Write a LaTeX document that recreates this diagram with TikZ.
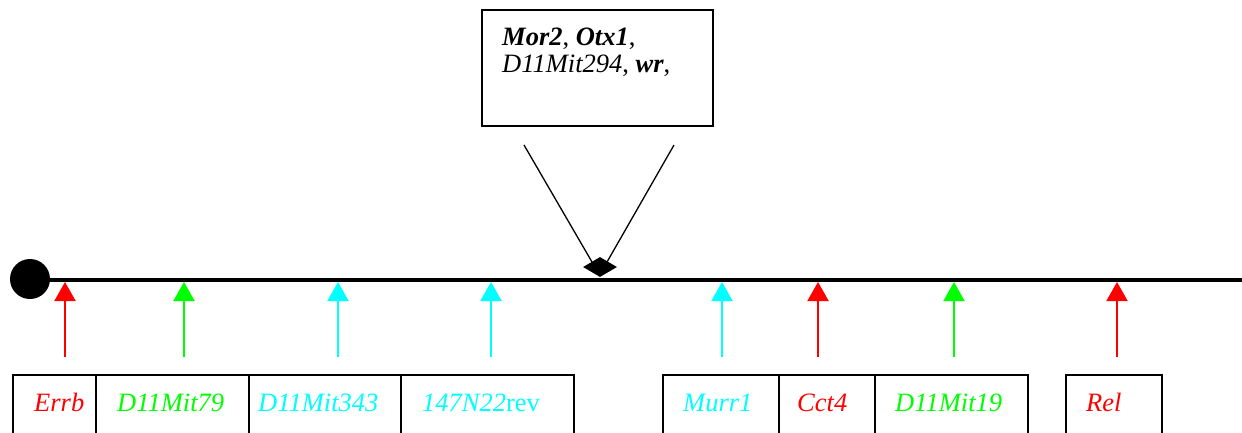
\documentclass[tikz,border=0pt]{standalone}
\usepackage{fontspec}
\setmainfont{Liberation Serif}
\usetikzlibrary{arrows.meta,shapes.geometric}
\definecolor{mred}{RGB}{255,0,0}
\definecolor{mgreen}{RGB}{0,255,0}
\definecolor{mcyan}{RGB}{0,255,255}
\tikzset{
  lbl/.style={anchor=base west,inner sep=0pt,font=\fontsize{26.5}{27}\selectfont\itshape},
  mbox/.style={draw=black,line width=1.5pt,inner sep=0pt},
  marker/.style={line width=2pt,-{Triangle[width=21pt,length=19pt]}},
  chrom/.style={line width=3.5pt},
  pointer/.style={line width=1.3pt}
}
\begin{document}
\begin{tikzpicture}[x=1pt,y=-1pt]
\useasboundingbox (0,0) rectangle (1242,432);
\clip (0,0) rectangle (1242,432);
% chromosome
\coordinate (cl) at (30,280);
\coordinate (cr) at (1250,280);
\draw[chrom] (cl) -- (cr);
\node[circle,fill=black,minimum size=40pt,inner sep=0pt] (cen) at (30,279) {};
\node[diamond,fill=black,minimum width=34pt,minimum height=20pt,inner sep=0pt,shape aspect=1.7] (dia) at (600,267) {};
% top box
\node[mbox,minimum width=231pt,minimum height=116pt] (top) at (597.5,68) {};
\node[lbl] (t1) at (502,45) {\textbf{Mor2}\upshape, \itshape\textbf{Otx1}\upshape,};
\node[lbl] (t2) at (502,72) {D11Mit294\upshape, \itshape\textbf{wr}\upshape,};
\coordinate (p1) at (524,145);
\coordinate (p2) at (674,145);
\coordinate (q1) at (592,262);
\coordinate (q2) at (607,262);
\draw[pointer] (p1) -- (q1);
\draw[pointer] (p2) -- (q2);
% bottom boxes
\foreach \n/\a/\b in {b1/13/96,b2/96/249,b3/249/401,b4/401/574,b5/663/779,b6/779/875,b7/875/1028,b8/1066/1162}{
  \draw[line width=1.5pt] (\a,445) -- (\a,375) -- (\b,375) -- (\b,445);
}
\node[lbl,text=mred] (l1) at (34,411) {Errb};
\node[lbl,text=mgreen] (l2) at (117,411) {D11Mit79};
\node[lbl,text=mcyan] (l3) at (258,411) {D11Mit343};
\node[lbl,text=mcyan] (l4) at (422,411) {147N22\upshape rev};
\node[lbl,text=mcyan] (l5) at (683,411) {Murr1};
\node[lbl,text=mred] (l6) at (797,411) {Cct4};
\node[lbl,text=mgreen] (l7) at (895,411) {D11Mit19};
\node[lbl,text=mred] (l8) at (1086,411) {Rel};
% markers
\foreach \x/\c/\i in {65/mred/1,184/mgreen/2,338/mcyan/3,491/mcyan/4,722/mcyan/5,818/mred/6,954/mgreen/7,1117/mred/8}{
  \coordinate (m\i b) at (\x,357);
  \coordinate (m\i t) at (\x,282);
  \draw[marker,draw=\c,fill=\c] (m\i b) -- (m\i t);
}
\end{tikzpicture}
\end{document}
